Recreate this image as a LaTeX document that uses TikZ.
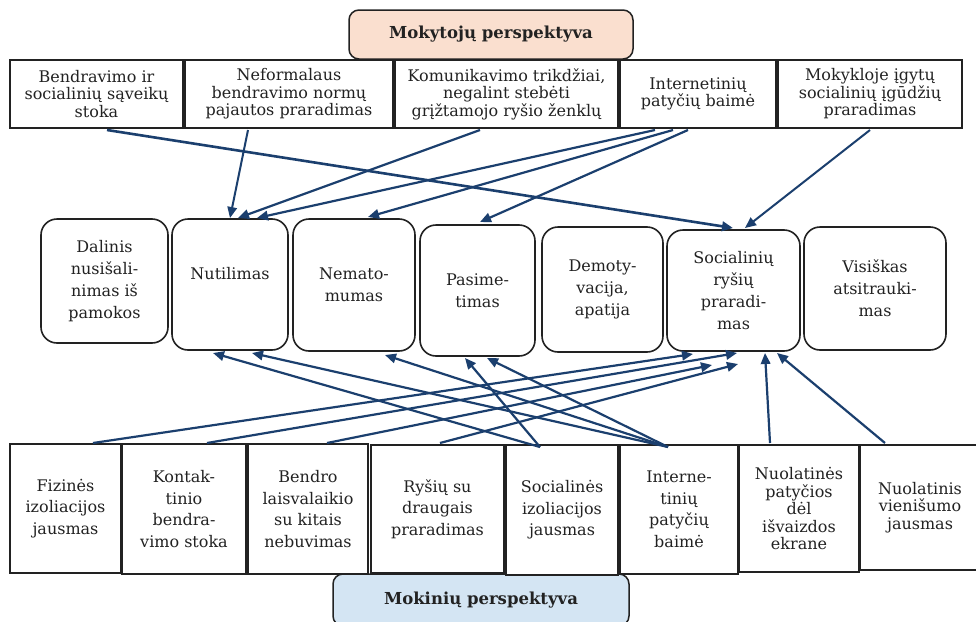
\documentclass[tikz,border=0pt]{standalone}
\usepackage{fontspec}
\setmainfont{DejaVu Serif}
\usetikzlibrary{arrows.meta}
\definecolor{navy}{HTML}{1B3F6E}
\definecolor{peach}{HTML}{FADFCF}
\definecolor{paleblue}{HTML}{D4E5F3}
\definecolor{ink}{HTML}{222222}
\begin{document}
\begin{tikzpicture}[x=1pt,y=-1pt,
  every node/.style={text=ink, align=center, inner sep=0pt, outer sep=0pt},
  sz/.style 2 args={minimum width=#1pt, minimum height=#2pt},
  hdr/.style={draw=ink, line width=1.5pt, rounded corners=10pt,
    font=\fontsize{16.5}{18}\selectfont\bfseries},
  topbox/.style={draw=ink, line width=1.6pt, fill=white,
    font=\fontsize{16}{17.5}\selectfont},
  midbox/.style={draw=ink, line width=1.6pt, rounded corners=16pt, fill=white,
    font=\fontsize{16}{22}\selectfont},
  lowbox/.style={draw=ink, line width=1.6pt, fill=white,
    font=\fontsize{16}{21.5}\selectfont},
  tight/.style={font=\fontsize{16}{17.5}\selectfont},
  conn/.style={draw=navy, line width=2.2pt, -{Triangle[length=11pt,width=9.5pt]}},
]
\useasboundingbox (0,0) rectangle (976,621);
\fill[white] (0,0) rectangle (976,621);

% teachers' header and first row
\node[hdr, fill=peach, sz={284}{49}] (thead) at (491,34.5) {Mokytojų perspektyva};
\node[topbox, sz={173}{68}] (t1) at (96.5,94) {Bendravimo ir\\socialinių sąveikų\\stoka};
\node[topbox, sz={208}{68}] (t2) at (289,94) {Neformalaus\\bendravimo normų\\pajautos praradimas};
\node[topbox, sz={223}{68}] (t3) at (506.5,94) {Komunikavimo trikdžiai,\\negalint stebėti\\grįžtamojo ryšio ženklų};
\node[topbox, sz={156}{68}] (t4) at (698,94) {Internetinių\\patyčių baimė};
\node[topbox, sz={184}{68}] (t5) at (870,94) {Mokykloje įgytų\\socialinių įgūdžių\\praradimas};

% consequences
\node[midbox, sz={127}{124}] (m1) at (104.5,281) {Dalinis\\nusišali-\\nimas iš\\pamokos};
\node[midbox, sz={116}{131}] (m2) at (230,284.5) {Nutilimas\\\mbox{}};
\node[midbox, sz={122}{132}] (m3) at (354,285) {Nemato-\\mumas};
\node[midbox, sz={115}{131}] (m4) at (477.5,290.5) {Pasime-\\timas};
\node[midbox, sz={121}{125}] (m5) at (602.5,289.5) {Demoty-\\vacija,\\apatija};
\node[midbox, sz={133}{121}] (m6) at (733.5,290.5) {Socialinių\\ryšių\\praradi-\\mas};
\node[midbox, sz={142}{123}] (m7) at (875,288.5) {Visiškas\\atsitrauki-\\mas};

% students' header and bottom row
\node[hdr, fill=paleblue, sz={296}{52}] (shead) at (481,600) {Mokinių perspektyva};
\node[lowbox, sz={111}{129}] (b1) at (65.5,508.5) {Fizinės\\izoliacijos\\jausmas};
\node[lowbox, sz={124}{130}] (b2) at (184,509) {Kontak-\\tinio\\bendra-\\vimo stoka};
\node[lowbox, sz={120}{130}] (b3) at (308,509) {Bendro\\laisvalaikio\\su kitais\\nebuvimas};
\node[lowbox, sz={133}{128}] (b4) at (437.5,509) {Ryšių su\\draugais\\praradimas};
\node[lowbox, sz={112}{130}] (b5) at (562,510) {Socialinės\\izoliacijos\\jausmas};
\node[lowbox, sz={118}{129}] (b6) at (679,509.5) {Interne-\\tinių\\patyčių\\baimė};
\node[lowbox, tight, sz={120}{127}] (b7) at (799,508.5) {Nuolatinės\\patyčios\\dėl\\išvaizdos\\ekrane};
\node[lowbox, tight, sz={120}{125}] (b8) at (920,507.5) {Nuolatinis\\vienišumo\\jausmas};

% teachers' links
\draw[conn, line width=2.6pt] ([xshift=97pt,yshift=-2pt]t1.south west) -- ([xshift=66pt,yshift=2pt]m6.north west);
\draw[conn, line width=2pt] ([xshift=63pt,yshift=-2pt]t2.south west) -- ([xshift=58pt,yshift=1pt]m2.north west);
\draw[conn] ([xshift=85pt,yshift=-2pt]t3.south west) -- ([xshift=66pt,yshift=1pt]m2.north west);
\draw[conn] ([xshift=35pt,yshift=-2pt]t4.south west) -- ([xshift=85pt,yshift=1pt]m2.north west);
\draw[conn] ([xshift=53pt,yshift=-2pt]t4.south west) -- ([xshift=75pt,yshift=2pt]m3.north west);
\draw[conn] ([xshift=68pt,yshift=-2pt]t4.south west) -- ([xshift=60pt,yshift=3pt]m4.north west);
\draw[conn, line width=2pt] ([xshift=92pt,yshift=-2pt]t5.south west) -- ([xshift=78pt,yshift=2pt]m6.north west);

% students' links
\draw[conn] ([xshift=83pt,yshift=1pt]b1.north west) -- ([xshift=26pt,yshift=-3pt]m6.south west);
\draw[conn] ([xshift=85pt,yshift=1pt]b2.north west) -- ([xshift=70pt,yshift=-2pt]m6.south west);
\draw[conn] ([xshift=79pt,yshift=1pt]b3.north west) -- ([xshift=45pt,yshift=-14pt]m6.south west);
\draw[conn] ([xshift=69pt,yshift=2pt]b4.north west) -- ([xshift=71pt,yshift=-13pt]m6.south west);
\draw[conn] ([xshift=34pt,yshift=-2pt]b5.north west) -- ([xshift=41pt,yshift=-3pt]m2.south west);
\draw[conn] ([xshift=34pt,yshift=-2pt]b5.north west) -- ([xshift=45pt,yshift=-2pt]m4.south west);
\draw[conn] ([xshift=48pt,yshift=-2pt]b6.north west) -- ([xshift=80pt,yshift=-3pt]m2.south west);
\draw[conn] ([xshift=48pt,yshift=-2pt]b6.north west) -- ([xshift=92pt,yshift=-4pt]m3.south west);
\draw[conn] ([xshift=48pt,yshift=-2pt]b6.north west) -- ([xshift=67pt,yshift=-2pt]m4.south west);
\draw[conn] ([xshift=31pt,yshift=2pt]b7.north west) -- ([xshift=98pt,yshift=-2pt]m6.south west);
\draw[conn] ([xshift=25pt,yshift=2pt]b8.north west) -- ([xshift=110pt,yshift=-2pt]m6.south west);
\end{tikzpicture}
\end{document}
